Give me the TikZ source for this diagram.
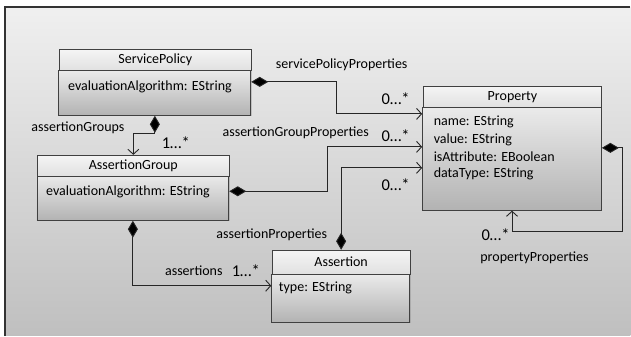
\documentclass[tikz,border=0pt]{standalone}
\usepackage{fontspec}
\setmainfont{Carlito}
\usetikzlibrary{arrows.meta,shadows}
\begin{document}
\begin{tikzpicture}[x=1pt,y=-1pt,
  font=\fontsize{14}{17}\selectfont,
  classhead/.style={draw=black!75, line width=0.9pt, top color=white!96!black, bottom color=white!88!black,
    anchor=north west, inner sep=0pt, minimum height=21pt},
  classbody/.style={draw=black!75, line width=0.9pt, top color=white!92!black, bottom color=white!70!black,
    anchor=north, inner sep=0pt,
    drop shadow={shadow xshift=1pt, shadow yshift=-1pt, opacity=0.35}},
  attr/.style={anchor=west, inner sep=0pt},
  lbl/.style={inner sep=0pt},
  mult/.style={inner sep=0pt, font=\fontsize{16.5}{18}\selectfont},
  comp/.style={draw=black!85, line width=0.9pt,
    {Diamond[length=17pt,width=10pt,fill=black]}-{Straight Barb[length=5pt,width=11pt,line width=0.9pt]}},
]
% canvas
\fill[white] (0,0) rectangle (631,336);
\shade[top color=white!94!black, bottom color=white!75!black] (5,7) rectangle (631,336);
\draw[black!80, line width=1.2pt] (5,336) -- (5,7) -- (631,7);
\useasboundingbox (0,0) rectangle (631,336);

% ServicePolicy
\node[classbody, minimum width=192pt, minimum height=45pt] (spb) at (155,70) {};
\node[classhead, minimum width=192pt] (sph) at (59,49) {ServicePolicy};
\node[attr] (spa) at (68,87) {evaluationAlgorithm: EString};

% AssertionGroup
\node[classbody, minimum width=192pt, minimum height=45pt] (agb) at (133,175) {};
\node[classhead, minimum width=192pt] (agh) at (37,155) {AssertionGroup};
\node[attr] (aga) at (46,192) {evaluationAlgorithm: EString};

% Property
\node[classbody, minimum width=179pt, minimum height=103pt] (prb) at (512.5,107) {};
\node[classhead, minimum width=179pt] (prh) at (423,86) {Property};
\node[attr] (pra1) at (434,122) {name: EString};
\node[attr] (pra2) at (434,140) {value: EString};
\node[attr] (pra3) at (434,157) {isAttribute: EBoolean};
\node[attr] (pra4) at (434,174) {dataType: EString};

% Assertion
\node[classbody, minimum width=138pt, minimum height=48pt] (asb) at (341,274) {};
\node[classhead, minimum width=138pt, minimum height=24pt] (ash) at (272,250) {Assertion};
\node[attr] (asa) at (279,288) {type: EString};

% compositions
\draw[comp] ([yshift=11pt]spb.east) -- ++(85,0) |- ([yshift=-7pt]prb.north west);
\draw[comp] ([yshift=6.5pt]agb.east) -- ++(98,0) |- ([yshift=-40pt]prb.north west);
\draw[comp] (ash.north) |- ([yshift=-61pt]prb.north west);
\draw[comp] ([yshift=-41pt]prb.north east) -- ++(21,0) -- ++(0,84) -| (prb.south);
\draw[comp] (spb.south) -- ++(0,18) -| (agh.north);
\draw[comp] (agb.south) |- ([yshift=-12pt]asb.north west);

% role names and multiplicities
\node[lbl] (l1) at (342,65) {servicePolicyProperties};
\node[mult] (m1) at (396,99) {0…*};
\node[lbl] (l2) at (296,133) {assertionGroupProperties};
\node[mult] (m2) at (396,136) {0…*};
\node[mult] (m3) at (396,185) {0…*};
\node[lbl] (l3) at (272,235) {assertionProperties};
\node[mult] (m4) at (496,235) {0…*};
\node[lbl] (l4) at (535,258) {propertyProperties};
\node[lbl] (l5) at (78,128) {assertionGroups};
\node[mult] (m5) at (176,143) {1…*};
\node[lbl] (l6) at (194,271) {assertions};
\node[mult] (m6) at (246,271) {1…*};
\end{tikzpicture}
\end{document}
